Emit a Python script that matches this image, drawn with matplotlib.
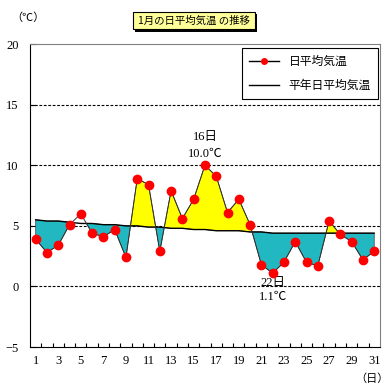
"""
1月の日平均気温の推移 (daily mean temperature vs normal)
"""

from matplotlib import pyplot as plt
from matplotlib.lines import Line2D
from matplotlib.patches import FancyBboxPatch
import numpy as np

days = list(range(1, 32))
temp = [3.9, 2.8, 3.4, 5.1, 6.0, 4.4, 4.1, 4.7, 2.4, 8.9,
        8.4, 2.9, 7.9, 5.6, 7.2, 10.0, 9.1, 6.1, 7.2, 5.1,
        1.8, 1.1, 2.0, 3.7, 2.0, 1.7, 5.4, 4.3, 3.7, 2.2, 2.9]
normal = [5.5, 5.4, 5.4, 5.3, 5.2, 5.2, 5.1, 5.1, 5.0, 5.0,
          4.9, 4.9, 4.8, 4.8, 4.7, 4.7, 4.6, 4.6, 4.6, 4.5,
          4.5, 4.4, 4.4, 4.4, 4.4, 4.4, 4.4, 4.4, 4.4, 4.4, 4.4]
day_labels = [str(d) for d in range(1, 32, 2)]

jp = ['Noto Sans CJK JP', 'DejaVu Sans']
serif = ['Liberation Serif', 'Noto Sans CJK JP']

fig = plt.figure(figsize=(3.9, 3.9), dpi=100)
ax = fig.add_axes([0.077, 0.110, 0.897, 0.777])

x = np.array(days)
t = np.array(temp)
n = np.array(normal)

# the original leaves the small bump around day 5 unfilled
above = (t >= n) & ~((x >= 4) & (x <= 6))
below = t < n
ax.fill_between(x, t, n, where=above, interpolate=True,
                facecolor='#FFFF00', edgecolor='#404040', linewidth=0.5, zorder=2)
ax.fill_between(x, t, n, where=below, interpolate=True,
                facecolor='#22B8C2', edgecolor='#404040', linewidth=0.5, zorder=2)
ax.plot(x, n, color='black', linewidth=1.0, zorder=3)
ax.plot(x, t, color='#303030', linewidth=0.7, zorder=4)
ax.plot(x, t, 'o', color='red', markersize=6, zorder=5)

ax.set_xlim(0.5, 31.5)
ax.set_ylim(-5, 20)
ax.set_yticks([-5, 0, 5, 10, 15, 20])
for yv in [0, 5, 10, 15]:
    ax.axhline(yv, color='black', linestyle=(0, (2.5, 1.5)), linewidth=0.8, zorder=1)

ax.set_xticks(range(1, 32, 2))
ax.set_xticklabels(day_labels, family=serif, fontsize=9)
ax.set_xticks(np.arange(1.5, 31.5, 1), minor=True)
ax.tick_params(axis='x', which='major', length=0, pad=6)
ax.tick_params(axis='x', which='minor', direction='in', length=3, width=0.8)
ax.tick_params(axis='y', direction='in', length=4, labelsize=9, pad=8)
for lab in ax.get_yticklabels():
    lab.set_family(serif)

ax.spines['left'].set_color('black')
ax.spines['bottom'].set_color('black')
ax.spines['top'].set_color('#808080')
ax.spines['right'].set_color('#808080')

handles = [Line2D([0], [0], color='black', linewidth=1, marker='o',
                  markerfacecolor='red', markeredgecolor='red', markersize=4),
           Line2D([0], [0], color='black', linewidth=1)]
leg = ax.legend(handles, ['日平均気温', '平年日平均気温'], loc='upper right',
                bbox_to_anchor=(0.994, 0.987), borderaxespad=0,
                prop={'family': jp, 'size': 8.5},
                fancybox=False, framealpha=1, edgecolor='black',
                handlelength=2.5, borderpad=0.6, labelspacing=0.9)
leg.get_frame().set_linewidth(0.8)

ax.text(16, 11.8, '16日', family=serif, fontsize=9, ha='center', va='bottom')
ax.text(16, 10.4, '10.0℃', family=serif, fontsize=9, ha='center', va='bottom')
ax.text(22, 0.8, '22日', family=serif, fontsize=9, ha='center', va='top')
ax.text(22, -0.4, '1.1℃', family=serif, fontsize=9, ha='center', va='top')

fig.text(0.03, 0.955, '（℃）', family=jp, fontsize=8, va='center')
fig.text(0.955, 0.03, '（日）', family=jp, fontsize=8, ha='center', va='center')

# title box with shadow
shadow = FancyBboxPatch((0.345, 0.918), 0.315, 0.045, boxstyle='square,pad=0',
                        transform=fig.transFigure, facecolor='black', edgecolor='none')
box = FancyBboxPatch((0.34, 0.925), 0.315, 0.045, boxstyle='square,pad=0',
                     transform=fig.transFigure, facecolor='#FFFF99',
                     edgecolor='black', linewidth=0.8)
fig.add_artist(shadow)
fig.add_artist(box)
fig.text(0.4975, 0.9475, '1月の日平均気温 の推移', family=jp, fontsize=7.5,
         ha='center', va='center')

fig.savefig('out.png', dpi=100)
